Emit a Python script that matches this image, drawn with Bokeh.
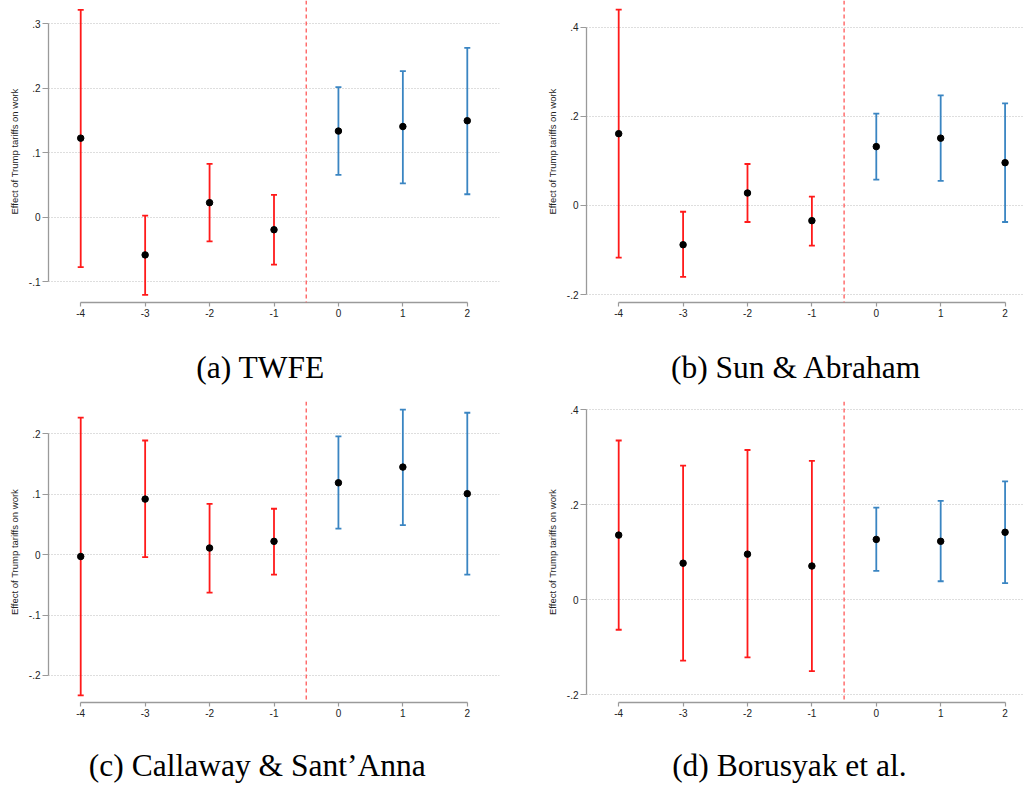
from bokeh.plotting import figure
from bokeh.layouts import gridplot
from bokeh.models import ColumnDataSource, Whisker, TeeHead, Span, FixedTicker, Range1d
from bokeh.core.properties import value
from bokeh.embed import file_html
from bokeh.resources import INLINE

# ---------------- data ----------------
event_time = [-4, -3, -2, -1, 0, 1, 2]
x_tick_labels = ["-4", "-3", "-2", "-1", "0", "1", "2"]

twfe_est = [0.123, -0.058, 0.023, -0.019, 0.134, 0.141, 0.150]
twfe_lo = [-0.077, -0.120, -0.037, -0.073, 0.066, 0.053, 0.036]
twfe_hi = [0.322, 0.003, 0.083, 0.035, 0.202, 0.227, 0.263]

sa_est = [0.161, -0.088, 0.028, -0.034, 0.132, 0.151, 0.096]
sa_lo = [-0.117, -0.160, -0.037, -0.090, 0.058, 0.055, -0.037]
sa_hi = [0.439, -0.014, 0.093, 0.020, 0.206, 0.247, 0.229]

cs_est = [-0.003, 0.092, 0.011, 0.022, 0.119, 0.145, 0.101]
cs_lo = [-0.233, -0.004, -0.063, -0.033, 0.043, 0.049, -0.033]
cs_hi = [0.227, 0.189, 0.084, 0.076, 0.196, 0.240, 0.235]

bjs_est = [0.136, 0.077, 0.096, 0.071, 0.127, 0.123, 0.142]
bjs_lo = [-0.063, -0.128, -0.121, -0.150, 0.061, 0.039, 0.035]
bjs_hi = [0.335, 0.282, 0.315, 0.292, 0.194, 0.208, 0.249]

a_yticks = [-0.1, 0.0, 0.1, 0.2, 0.3]
a_ylabels = ["-.1", "0", ".1", ".2", ".3"]
b_yticks = [-0.2, 0.0, 0.2, 0.4]
b_ylabels = ["-.2", "0", ".2", ".4"]
c_yticks = [-0.2, -0.1, 0.0, 0.1, 0.2]
c_ylabels = ["-.2", "-.1", "0", ".1", ".2"]
d_yticks = [-0.2, 0.0, 0.2, 0.4]
d_ylabels = ["-.2", "0", ".2", ".4"]

captions = ["(a) TWFE", "(b) Sun & Abraham", "(c) Callaway & Sant\u2019Anna", "(d) Borusyak et al."]
y_label = "Effect of Trump tariffs on work"
treatment_line = -0.5

PRE_COLOR = "#ff1a1a"
POST_COLOR = "#3a85c2"
AXIS_COLOR = "#9a9a9a"
TICK_TEXT = "#222222"


def panel(est, lo, hi, yticks, ylabels, width, height, xr, yr, left, right, top, bottom):
    p = figure(width=width, height=height, output_backend="svg", toolbar_location=None,
               x_range=xr, y_range=Range1d(*yr),
               min_border_left=left, min_border_right=right,
               min_border_top=top, min_border_bottom=bottom)
    p.outline_line_color = None
    p.background_fill_color = "white"
    p.border_fill_color = "white"

    for cond, col in ((lambda t: t < 0, PRE_COLOR), (lambda t: t >= 0, POST_COLOR)):
        idx = [i for i, t in enumerate(event_time) if cond(t)]
        src = ColumnDataSource(dict(x=[event_time[i] for i in idx],
                                    lo=[lo[i] for i in idx],
                                    hi=[hi[i] for i in idx]))
        w = Whisker(base="x", lower="lo", upper="hi", source=src,
                    line_color=col, line_width=1.8, dimension="height",
                    upper_head=TeeHead(size=6, line_color=col, line_width=1.8),
                    lower_head=TeeHead(size=6, line_color=col, line_width=1.8))
        p.add_layout(w)

    p.scatter(event_time, est, size=6.5, color="black")

    p.add_layout(Span(location=treatment_line, dimension="height", line_color="#ff4a4a",
                      line_dash="4 3", line_width=1.2))

    p.yaxis.ticker = FixedTicker(ticks=yticks)
    p.yaxis.major_label_overrides = {t: l for t, l in zip(yticks, ylabels)}
    p.yaxis.bounds = (min(yticks), max(yticks))
    p.yaxis.axis_label = y_label
    p.yaxis.axis_label_text_font = "Liberation Sans"
    p.yaxis.axis_label_text_font_size = "9.5px"
    p.yaxis.axis_label_text_font_style = "normal"
    p.yaxis.axis_label_text_color = TICK_TEXT
    p.yaxis.axis_label_standoff = 6
    p.yaxis.major_label_orientation = "horizontal"

    p.xaxis.ticker = FixedTicker(ticks=event_time)
    p.xaxis.major_label_overrides = {t: l for t, l in zip(event_time, x_tick_labels)}
    p.xaxis.bounds = (min(event_time), max(event_time))

    for ax in (p.xaxis, p.yaxis):
        ax.axis_line_color = AXIS_COLOR
        ax.axis_line_width = 1.3
        ax.major_tick_line_color = AXIS_COLOR
        ax.major_tick_line_width = 1.2
        ax.major_tick_in = 0
        ax.minor_tick_line_color = None
        ax.major_label_text_font = "Liberation Sans"
        ax.major_label_text_font_size = "10px"
        ax.major_label_text_color = TICK_TEXT
        ax.major_label_standoff = 2
    p.yaxis.major_tick_out = 6
    p.xaxis.major_tick_out = 4

    p.xgrid.grid_line_color = None
    p.ygrid.ticker = FixedTicker(ticks=yticks)
    p.ygrid.grid_line_color = "#bdbdbd"
    p.ygrid.grid_line_dash = "1 2"
    p.ygrid.grid_line_width = 1
    return p


def caption_fig(text, width, height, xr, cx, cy):
    # shares the panel's x range so the caption lines up with the panel's frame
    c = figure(width=width, height=height, output_backend="svg", toolbar_location=None,
               x_range=xr, y_range=Range1d(0, height),
               x_axis_location=None, y_axis_location=None, min_border=0)
    c.outline_line_color = None
    c.xgrid.grid_line_color = None
    c.ygrid.grid_line_color = None
    c.text(x=[cx], y=[cy], text=[text], text_align="center", text_baseline="middle",
           text_font=value("Liberation Serif"), text_font_size="31.5px", text_color="black")
    return c


xr_left_a = Range1d(-4.5, 2.5)
xr_right_b = Range1d(-4.5, 2.286)
xr_left_c = Range1d(-4.5, 2.5)
xr_right_d = Range1d(-4.5, 2.286)

pa = panel(twfe_est, twfe_lo, twfe_hi, a_yticks, a_ylabels,
           512, 322, xr_left_a, (-0.1318, 0.3364), 48, 13, 0, 20)
pb = panel(sa_est, sa_lo, sa_hi, b_yticks, b_ylabels,
           511, 322, xr_right_b, (-0.2175, 0.4596), 74, 0, 0, 20)
pc = panel(cs_est, cs_lo, cs_hi, c_yticks, c_ylabels,
           512, 328, xr_left_c, (-0.2448, 0.2536), 48, 13, 7, 20)
pd = panel(bjs_est, bjs_lo, bjs_hi, d_yticks, d_ylabels,
           511, 328, xr_right_d, (-0.216, 0.417), 74, 0, 7, 20)

ca = caption_fig(captions[0], 512, 72, xr_left_a, -1.21, 27)
cb = caption_fig(captions[1], 511, 72, xr_right_b, -1.24, 27)
cc = caption_fig(captions[2], 512, 65, xr_left_c, -1.26, 22)
cd = caption_fig(captions[3], 511, 65, xr_right_d, -1.35, 22)

grid = gridplot([[pa, pb], [ca, cb], [pc, pd], [cc, cd]], toolbar_location=None)

open("out.html", "w").write(file_html(grid, INLINE))
